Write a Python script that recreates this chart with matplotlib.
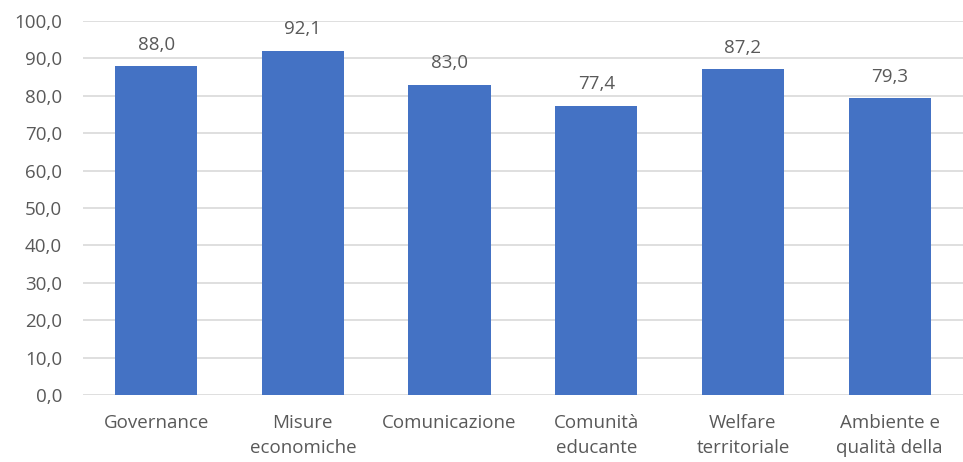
import numpy as np
import matplotlib.pyplot as plt

categories = ['Governance', 'Misure\neconomiche', 'Comunicazione',
              'Comunità\neducante', 'Welfare\nterritoriale', 'Ambiente e\nqualità della']
values = [88.0, 92.1, 83.0, 77.4, 87.2, 79.3]
yticks = np.arange(0, 101, 10)

plt.rcParams['font.family'] = ['Open Sans', 'DejaVu Sans']
text_color = '#595959'

fig = plt.figure(figsize=(9.63, 4.62), dpi=100)
ax = fig.add_axes([0.086, 0.145, 0.914, 0.8095])

x = np.arange(len(categories))
ax.bar(x, values, width=0.56, color='#4472C4', zorder=3)
for xi, v in zip(x, values):
    ax.text(xi, v + 3.3, f'{v:.1f}'.replace('.', ','), ha='center', va='bottom',
            fontsize=13.5, color=text_color)

ax.set_xlim(-0.5, len(categories) - 0.5)
ax.set_ylim(0, 100)
ax.set_yticks(yticks)
ax.set_yticklabels([f'{t:.1f}'.replace('.', ',') for t in yticks], fontsize=13.5, color=text_color)
ax.set_xticks(x)
ax.set_xticklabels(categories, fontsize=13.5, color=text_color, linespacing=1.45, va='top')
ax.tick_params(length=0)
ax.tick_params(axis='x', pad=14)
ax.tick_params(axis='y', pad=15)
ax.grid(axis='y', color='#d9d9d9', linewidth=1.2, zorder=0)
for s in ax.spines.values():
    s.set_visible(False)

fig.savefig('out.png', dpi=100)
